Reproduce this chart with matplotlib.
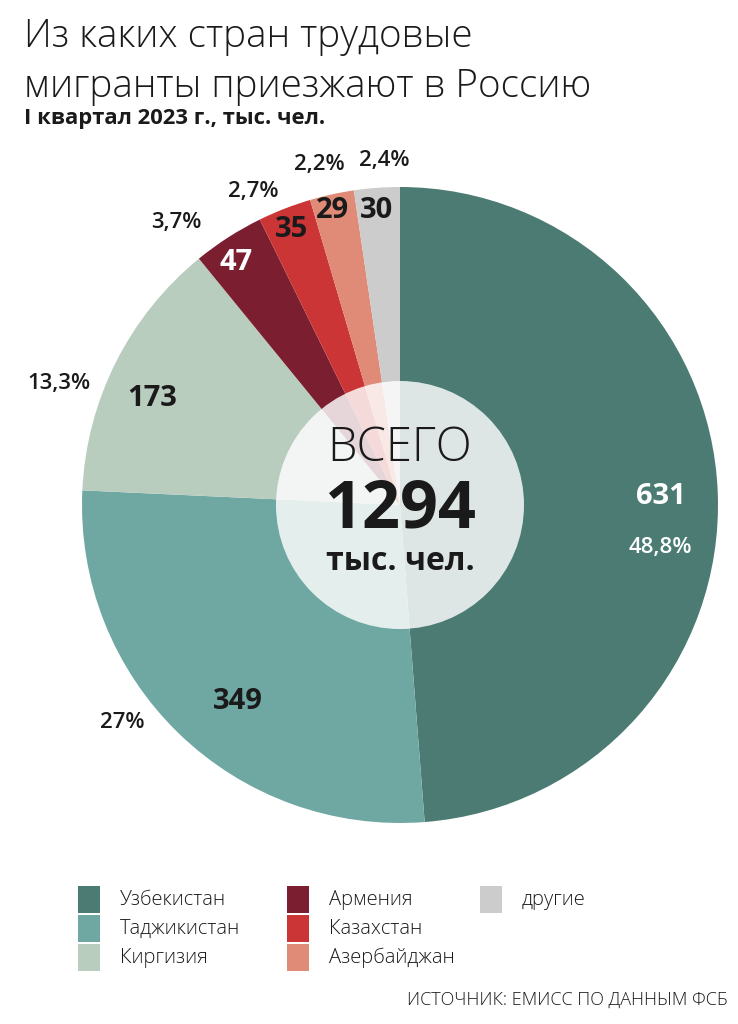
import matplotlib
matplotlib.use("Agg")
import matplotlib.pyplot as plt
import numpy as np
from matplotlib.patches import Circle, Rectangle

# данные
countries = ["Узбекистан", "Таджикистан", "Киргизия", "Армения",
             "Казахстан", "Азербайджан", "другие"]
values = [631, 349, 173, 47, 35, 29, 30]
shares = ["48,8%", "27%", "13,3%", "3,7%", "2,7%", "2,2%", "2,4%"]
total = 1294

colors = ["#4b7b73", "#6fa8a2", "#b9cdbf", "#7b1f30",
          "#cc3535", "#e08a78", "#cccccc"]
value_colors = ["white", "#1a1a1a", "#1a1a1a", "white",
                "#1a1a1a", "#1a1a1a", "#1a1a1a"]
share_colors = ["white"] + ["#1a1a1a"] * 6

# смещения подписей: (сдвиг угла по часовой, радиус в долях R)
value_pos = [(0.4, 0.82), (-4.5, 0.80), (-3.4, 0.85), (-1.4, 0.92),
             (-0.2, 0.93), (-0.5, 0.95), (-0.3, 0.93)]
share_pos = [(11.6, 0.83), (7.9, 1.11), (-7.1, 1.14), (-5.7, 1.135),
             (-3.8, 1.09), (-0.9, 1.10), (1.5, 1.085)]

FONT = ["Open Sans", "DejaVu Sans"]
plt.rcParams["font.family"] = FONT

W, H = 738, 1024
fig = plt.figure(figsize=(W / 100, H / 100), dpi=100)
fig.patch.set_facecolor("white")

# круговая диаграмма: центр (400, 505) px, радиус 318 px
cx, cy, R = 400, 505, 318
ax = fig.add_axes([(cx - R) / W, (H - cy - R) / H, 2 * R / W, 2 * R / H])
wedges, _ = ax.pie(values, colors=colors, startangle=90, counterclock=False,
                   radius=1, wedgeprops=dict(linewidth=0))
ax.set_xlim(-1, 1)
ax.set_ylim(-1, 1)
ax.set_aspect("equal")
ax.axis("off")

for i, w in enumerate(wedges):
    mid = (w.theta1 + w.theta2) / 2
    da, r = value_pos[i]
    a = np.deg2rad(mid - da)
    ax.text(r * np.cos(a), r * np.sin(a), str(values[i]), ha="center",
            va="center", fontsize=21, fontweight="bold",
            color=value_colors[i], zorder=5)
    da, r = share_pos[i]
    a = np.deg2rad(mid - da)
    ax.text(r * np.cos(a), r * np.sin(a), shares[i], ha="center",
            va="center", fontsize=16, fontweight="semibold",
            color=share_colors[i], zorder=5, clip_on=False)

# центральный круг
ax.add_patch(Circle((0, 0), 124 / R, facecolor="white", alpha=0.82,
                    edgecolor="none", zorder=3))
ax.text(0, 56 / R, "ВСЕГО", ha="center", va="center", fontsize=34,
        fontweight="light", color="#1a1a1a", zorder=6)
ax.text(0, -5 / R, str(total), ha="center", va="center", fontsize=48,
        fontweight="bold", color="#1a1a1a", zorder=6)
ax.text(0, -56 / R, "тыс. чел.", ha="center", va="center", fontsize=23,
        fontweight="bold", color="#1a1a1a", zorder=6)

# текстовый слой в пикселях
tx = fig.add_axes([0, 0, 1, 1], facecolor="none")
tx.set_xlim(0, W)
tx.set_ylim(H, 0)
tx.axis("off")

tx.text(24, 47, "Из каких стран трудовые", fontsize=27.8, fontweight="light",
        color="#1a1a1a", va="baseline")
tx.text(24, 97, "мигранты приезжают в Россию", fontsize=27.8,
        fontweight="light", color="#1a1a1a", va="baseline")
tx.text(24, 124, "I квартал 2023 г., тыс. чел.", fontsize=15.8,
        fontweight="bold", color="#1a1a1a", va="baseline")

# легенда
leg_x = [78, 287, 480]
for i, name in enumerate(countries):
    col, row = divmod(i, 3)
    x0 = leg_x[col]
    y0 = 886 + row * 29
    tx.add_patch(Rectangle((x0, y0), 22, 27, facecolor=colors[i],
                           edgecolor="none"))
    tx.text(x0 + 42, y0 + 14, name, fontsize=14.5, fontweight="light",
            color="#1a1a1a", va="center")

tx.text(728, 1005, "ИСТОЧНИК: ЕМИСС ПО ДАННЫМ ФСБ", fontsize=13,
        fontweight="light", color="#1a1a1a", ha="right", va="baseline")

fig.savefig("out.png", dpi=100, facecolor="white")
plt.close(fig)
